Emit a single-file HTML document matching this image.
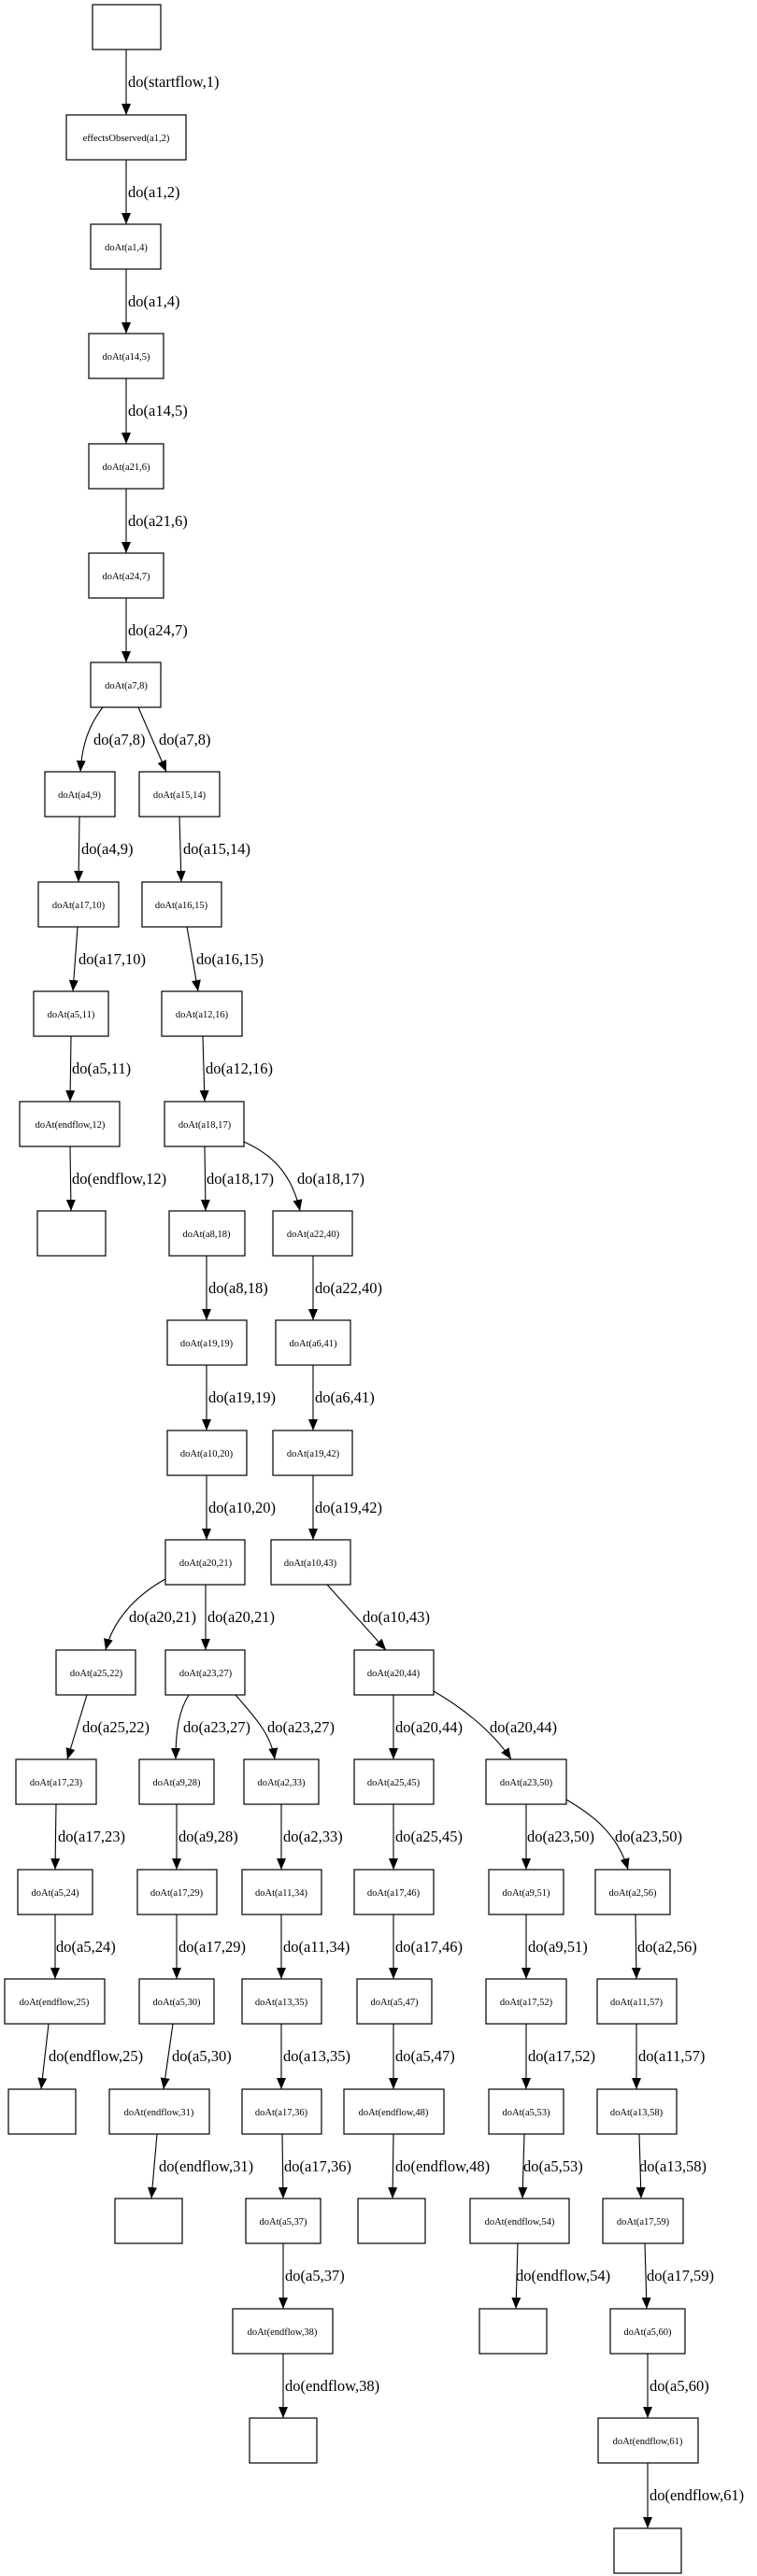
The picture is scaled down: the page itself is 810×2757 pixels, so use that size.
<!DOCTYPE html>
<html><head><meta charset="utf-8"><style>
html,body{margin:0;padding:0;background:#fff;}
svg{display:block;}
.n{fill:#fff;stroke:#000;stroke-width:1.2;}
.t{font-family:"Liberation Serif",serif;font-size:10.5px;text-anchor:middle;fill:#000;}
.l{font-family:"Liberation Serif",serif;font-size:16.5px;fill:#000;}
.e{fill:none;stroke:#000;stroke-width:1.1;marker-end:url(#ah);}
</style></head><body>
<svg width="810" height="2757" viewBox="0 0 810 2757" xmlns="http://www.w3.org/2000/svg">
<defs><marker id="ah" markerUnits="userSpaceOnUse" markerWidth="13" markerHeight="11" refX="12" refY="5" orient="auto"><path d="M0,0 L12,5 L0,10 z" fill="#000"/></marker></defs>
<!-- nodes -->
<rect class="n" x="99" y="5" width="73" height="48"/>
<rect class="n" x="71" y="123" width="128" height="48"/><text class="t" x="135" y="151">effectsObserved(a1,2)</text>
<rect class="n" x="97" y="240" width="75" height="48"/><text class="t" x="135" y="268">doAt(a1,4)</text>
<rect class="n" x="95" y="357" width="80" height="48"/><text class="t" x="135" y="385">doAt(a14,5)</text>
<rect class="n" x="95" y="475" width="80" height="48"/><text class="t" x="135" y="503">doAt(a21,6)</text>
<rect class="n" x="95" y="592" width="80" height="48"/><text class="t" x="135" y="620">doAt(a24,7)</text>
<rect class="n" x="97" y="709" width="75" height="48"/><text class="t" x="135" y="737">doAt(a7,8)</text>
<rect class="n" x="48" y="826" width="75" height="48"/><text class="t" x="85" y="854">doAt(a4,9)</text>
<rect class="n" x="149" y="826" width="86" height="48"/><text class="t" x="192" y="854">doAt(a15,14)</text>
<rect class="n" x="41" y="944" width="86" height="48"/><text class="t" x="84" y="972">doAt(a17,10)</text>
<rect class="n" x="152" y="944" width="85" height="48"/><text class="t" x="194" y="972">doAt(a16,15)</text>
<rect class="n" x="36" y="1061" width="80" height="48"/><text class="t" x="76" y="1089">doAt(a5,11)</text>
<rect class="n" x="173" y="1061" width="86" height="48"/><text class="t" x="216" y="1089">doAt(a12,16)</text>
<rect class="n" x="21" y="1179" width="107" height="48"/><text class="t" x="75" y="1207">doAt(endflow,12)</text>
<rect class="n" x="176" y="1179" width="85" height="48"/><text class="t" x="219" y="1207">doAt(a18,17)</text>
<rect class="n" x="40" y="1296" width="73" height="48"/>
<rect class="n" x="181" y="1296" width="81" height="48"/><text class="t" x="221" y="1324">doAt(a8,18)</text>
<rect class="n" x="292" y="1296" width="85" height="48"/><text class="t" x="335" y="1324">doAt(a22,40)</text>
<rect class="n" x="179" y="1413" width="85" height="48"/><text class="t" x="221" y="1441">doAt(a19,19)</text>
<rect class="n" x="295" y="1413" width="80" height="48"/><text class="t" x="335" y="1441">doAt(a6,41)</text>
<rect class="n" x="179" y="1531" width="85" height="48"/><text class="t" x="221" y="1559">doAt(a10,20)</text>
<rect class="n" x="292" y="1531" width="85" height="48"/><text class="t" x="335" y="1559">doAt(a19,42)</text>
<rect class="n" x="177" y="1648" width="85" height="48"/><text class="t" x="220" y="1676">doAt(a20,21)</text>
<rect class="n" x="290" y="1648" width="85" height="48"/><text class="t" x="332" y="1676">doAt(a10,43)</text>
<rect class="n" x="60" y="1766" width="85" height="48"/><text class="t" x="103" y="1794">doAt(a25,22)</text>
<rect class="n" x="177" y="1766" width="85" height="48"/><text class="t" x="220" y="1794">doAt(a23,27)</text>
<rect class="n" x="379" y="1766" width="85" height="48"/><text class="t" x="421" y="1794">doAt(a20,44)</text>
<rect class="n" x="17" y="1883" width="86" height="48"/><text class="t" x="60" y="1911">doAt(a17,23)</text>
<rect class="n" x="149" y="1883" width="80" height="48"/><text class="t" x="189" y="1911">doAt(a9,28)</text>
<rect class="n" x="261" y="1883" width="80" height="48"/><text class="t" x="301" y="1911">doAt(a2,33)</text>
<rect class="n" x="379" y="1883" width="85" height="48"/><text class="t" x="421" y="1911">doAt(a25,45)</text>
<rect class="n" x="520" y="1883" width="86" height="48"/><text class="t" x="563" y="1911">doAt(a23,50)</text>
<rect class="n" x="19" y="2001" width="80" height="48"/><text class="t" x="59" y="2029">doAt(a5,24)</text>
<rect class="n" x="147" y="2001" width="85" height="48"/><text class="t" x="189" y="2029">doAt(a17,29)</text>
<rect class="n" x="259" y="2001" width="85" height="48"/><text class="t" x="301" y="2029">doAt(a11,34)</text>
<rect class="n" x="379" y="2001" width="85" height="48"/><text class="t" x="421" y="2029">doAt(a17,46)</text>
<rect class="n" x="523" y="2001" width="80" height="48"/><text class="t" x="563" y="2029">doAt(a9,51)</text>
<rect class="n" x="637" y="2001" width="80" height="48"/><text class="t" x="677" y="2029">doAt(a2,56)</text>
<rect class="n" x="5" y="2118" width="107" height="48"/><text class="t" x="58" y="2146">doAt(endflow,25)</text>
<rect class="n" x="149" y="2118" width="80" height="48"/><text class="t" x="189" y="2146">doAt(a5,30)</text>
<rect class="n" x="259" y="2118" width="85" height="48"/><text class="t" x="301" y="2146">doAt(a13,35)</text>
<rect class="n" x="382" y="2118" width="80" height="48"/><text class="t" x="422" y="2146">doAt(a5,47)</text>
<rect class="n" x="520" y="2118" width="86" height="48"/><text class="t" x="563" y="2146">doAt(a17,52)</text>
<rect class="n" x="639" y="2118" width="85" height="48"/><text class="t" x="681" y="2146">doAt(a11,57)</text>
<rect class="n" x="9" y="2236" width="72" height="48"/>
<rect class="n" x="117" y="2236" width="107" height="48"/><text class="t" x="170" y="2264">doAt(endflow,31)</text>
<rect class="n" x="259" y="2236" width="85" height="48"/><text class="t" x="301" y="2264">doAt(a17,36)</text>
<rect class="n" x="368" y="2236" width="107" height="48"/><text class="t" x="421" y="2264">doAt(endflow,48)</text>
<rect class="n" x="523" y="2236" width="80" height="48"/><text class="t" x="563" y="2264">doAt(a5,53)</text>
<rect class="n" x="639" y="2236" width="85" height="48"/><text class="t" x="681" y="2264">doAt(a13,58)</text>
<rect class="n" x="123" y="2353" width="72" height="48"/>
<rect class="n" x="263" y="2353" width="80" height="48"/><text class="t" x="303" y="2381">doAt(a5,37)</text>
<rect class="n" x="383" y="2353" width="72" height="48"/>
<rect class="n" x="503" y="2353" width="106" height="48"/><text class="t" x="556" y="2381">doAt(endflow,54)</text>
<rect class="n" x="645" y="2353" width="86" height="48"/><text class="t" x="688" y="2381">doAt(a17,59)</text>
<rect class="n" x="249" y="2471" width="107" height="48"/><text class="t" x="302" y="2499">doAt(endflow,38)</text>
<rect class="n" x="513" y="2471" width="72" height="48"/>
<rect class="n" x="653" y="2471" width="80" height="48"/><text class="t" x="693" y="2499">doAt(a5,60)</text>
<rect class="n" x="267" y="2588" width="72" height="48"/>
<rect class="n" x="640" y="2588" width="107" height="48"/><text class="t" x="693" y="2616">doAt(endflow,61)</text>
<rect class="n" x="657" y="2706" width="72" height="48"/>
<!-- edges -->
<path class="e" d="M135,53 L135,123"/><text class="l" x="137" y="93">do(startflow,1)</text>
<path class="e" d="M135,171 L135,240"/><text class="l" x="137" y="211">do(a1,2)</text>
<path class="e" d="M135,288 L135,357"/><text class="l" x="137" y="328">do(a1,4)</text>
<path class="e" d="M135,405 L135,475"/><text class="l" x="137" y="445">do(a14,5)</text>
<path class="e" d="M135,523 L135,592"/><text class="l" x="137" y="563">do(a21,6)</text>
<path class="e" d="M135,640 L135,709"/><text class="l" x="137" y="680">do(a24,7)</text>
<path class="e" d="M110,757 C96,775 88,795 86,826"/><text class="l" x="100" y="797">do(a7,8)</text>
<path class="e" d="M148,757 L178,826"/><text class="l" x="170" y="797">do(a7,8)</text>
<path class="e" d="M85,874 L84,944"/><text class="l" x="87" y="914">do(a4,9)</text>
<path class="e" d="M192,874 L194,944"/><text class="l" x="196" y="914">do(a15,14)</text>
<path class="e" d="M83,992 L78,1061"/><text class="l" x="84" y="1032">do(a17,10)</text>
<path class="e" d="M200,992 L212,1061"/><text class="l" x="210" y="1032">do(a16,15)</text>
<path class="e" d="M76,1109 L75,1179"/><text class="l" x="77" y="1149">do(a5,11)</text>
<path class="e" d="M217,1109 L219,1179"/><text class="l" x="220" y="1149">do(a12,16)</text>
<path class="e" d="M75,1227 L76,1296"/><text class="l" x="77" y="1267">do(endflow,12)</text>
<path class="e" d="M219,1227 L220,1296"/><text class="l" x="221" y="1267">do(a18,17)</text>
<path class="e" d="M261,1222 C290,1235 312,1255 321,1296"/><text class="l" x="318" y="1267">do(a18,17)</text>
<path class="e" d="M221,1344 L221,1413"/><text class="l" x="223" y="1384">do(a8,18)</text>
<path class="e" d="M335,1344 L335,1413"/><text class="l" x="337" y="1384">do(a22,40)</text>
<path class="e" d="M221,1461 L221,1531"/><text class="l" x="223" y="1501">do(a19,19)</text>
<path class="e" d="M335,1461 L335,1531"/><text class="l" x="337" y="1501">do(a6,41)</text>
<path class="e" d="M221,1579 L221,1648"/><text class="l" x="223" y="1619">do(a10,20)</text>
<path class="e" d="M335,1579 L335,1648"/><text class="l" x="337" y="1619">do(a19,42)</text>
<path class="e" d="M177,1690 C150,1705 122,1730 113,1766"/><text class="l" x="138" y="1736">do(a20,21)</text>
<path class="e" d="M220,1696 L220,1766"/><text class="l" x="222" y="1736">do(a20,21)</text>
<path class="e" d="M350,1696 L413,1766"/><text class="l" x="388" y="1736">do(a10,43)</text>
<path class="e" d="M421,1814 L421,1883"/><text class="l" x="423" y="1854">do(a20,44)</text>
<path class="e" d="M464,1810 C490,1825 525,1850 547,1883"/><text class="l" x="524" y="1854">do(a20,44)</text>
<path class="e" d="M93,1814 L72,1883"/><text class="l" x="88" y="1854">do(a25,22)</text>
<path class="e" d="M202,1814 C192,1830 188,1850 188,1883"/><text class="l" x="196" y="1854">do(a23,27)</text>
<path class="e" d="M252,1814 C270,1835 290,1855 294,1883"/><text class="l" x="286" y="1854">do(a23,27)</text>
<path class="e" d="M60,1931 L59,2001"/><text class="l" x="62" y="1971">do(a17,23)</text>
<path class="e" d="M189,1931 L189,2001"/><text class="l" x="191" y="1971">do(a9,28)</text>
<path class="e" d="M301,1931 L301,2001"/><text class="l" x="303" y="1971">do(a2,33)</text>
<path class="e" d="M421,1931 L421,2001"/><text class="l" x="423" y="1971">do(a25,45)</text>
<path class="e" d="M563,1931 L563,2001"/><text class="l" x="564" y="1971">do(a23,50)</text>
<path class="e" d="M606,1926 C630,1940 660,1960 672,2001"/><text class="l" x="658" y="1971">do(a23,50)</text>
<path class="e" d="M59,2049 L59,2118"/><text class="l" x="60" y="2089">do(a5,24)</text>
<path class="e" d="M189,2049 L189,2118"/><text class="l" x="191" y="2089">do(a17,29)</text>
<path class="e" d="M301,2049 L301,2118"/><text class="l" x="303" y="2089">do(a11,34)</text>
<path class="e" d="M421,2049 L421,2118"/><text class="l" x="423" y="2089">do(a17,46)</text>
<path class="e" d="M563,2049 L563,2118"/><text class="l" x="565" y="2089">do(a9,51)</text>
<path class="e" d="M680,2049 L681,2118"/><text class="l" x="682" y="2089">do(a2,56)</text>
<path class="e" d="M52,2166 L44,2236"/><text class="l" x="52" y="2206">do(endflow,25)</text>
<path class="e" d="M185,2166 L175,2236"/><text class="l" x="184" y="2206">do(a5,30)</text>
<path class="e" d="M301,2166 L301,2236"/><text class="l" x="303" y="2206">do(a13,35)</text>
<path class="e" d="M421,2166 L421,2236"/><text class="l" x="423" y="2206">do(a5,47)</text>
<path class="e" d="M563,2166 L563,2236"/><text class="l" x="565" y="2206">do(a17,52)</text>
<path class="e" d="M681,2166 L681,2236"/><text class="l" x="683" y="2206">do(a11,57)</text>
<path class="e" d="M168,2284 L162,2353"/><text class="l" x="170" y="2324">do(endflow,31)</text>
<path class="e" d="M302,2284 L303,2353"/><text class="l" x="304" y="2324">do(a17,36)</text>
<path class="e" d="M421,2284 L420,2353"/><text class="l" x="423" y="2324">do(endflow,48)</text>
<path class="e" d="M561,2284 L559,2353"/><text class="l" x="560" y="2324">do(a5,53)</text>
<path class="e" d="M684,2284 L686,2353"/><text class="l" x="684" y="2324">do(a13,58)</text>
<path class="e" d="M303,2401 L303,2471"/><text class="l" x="305" y="2441">do(a5,37)</text>
<path class="e" d="M554,2401 L552,2471"/><text class="l" x="552" y="2441">do(endflow,54)</text>
<path class="e" d="M690,2401 L692,2471"/><text class="l" x="692" y="2441">do(a17,59)</text>
<path class="e" d="M303,2519 L303,2588"/><text class="l" x="305" y="2559">do(endflow,38)</text>
<path class="e" d="M693,2519 L693,2588"/><text class="l" x="695" y="2559">do(a5,60)</text>
<path class="e" d="M693,2636 L693,2706"/><text class="l" x="695" y="2676">do(endflow,61)</text>
</svg>
</body></html>
